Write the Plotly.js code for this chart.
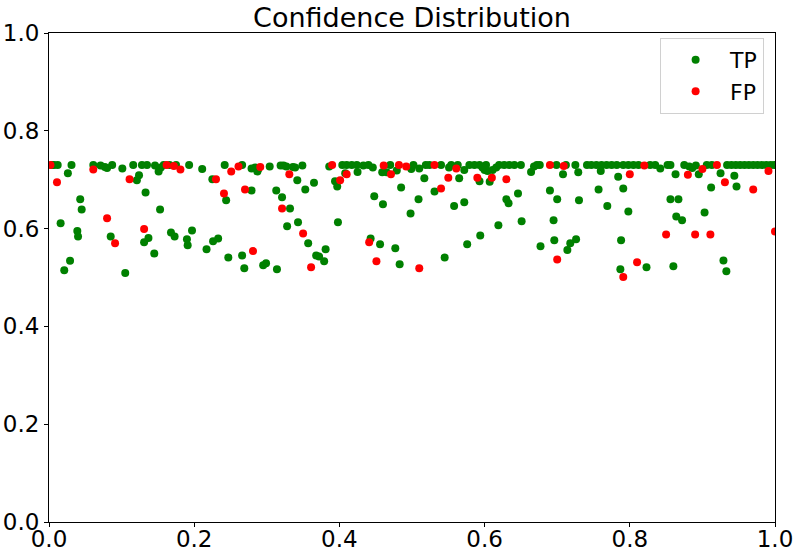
<!DOCTYPE html>
<html>
<head>
<meta charset="utf-8">
<script src="https://cdn.plot.ly/plotly-3.0.1.min.js"></script>
<style>html,body{margin:0;padding:0;background:#fff;}#chart{width:799px;height:556px;}</style>
</head>
<body>
<div id="chart"></div>
<script>
// True positives: confidence (x) vs score (y)
const tpX = [0.004,0.007,0.012,0.031,0.026,0.043,0.045,0.016,0.039,0.040,0.029,0.021,0.085,0.105,0.061,0.071,0.077,0.080,0.087,0.101,0.116,0.121,0.124,0.128,0.133,0.135,0.131,0.137,0.145,0.153,0.146,0.151,0.154,0.158,0.166,0.175,0.168,0.173,0.190,0.191,0.197,0.193,0.211,0.217,0.225,0.226,0.233,0.242,0.244,0.247,0.266,0.266,0.269,0.279,0.284,0.288,0.287,0.279,0.295,0.299,0.304,0.314,0.313,0.319,0.323,0.327,0.321,0.332,0.336,0.339,0.349,0.342,0.353,0.365,0.343,0.328,0.357,0.368,0.372,0.381,0.379,0.398,0.386,0.394,0.397,0.404,0.410,0.417,0.424,0.408,0.425,0.433,0.440,0.446,0.448,0.460,0.443,0.456,0.477,0.483,0.459,0.465,0.470,0.479,0.485,0.498,0.499,0.502,0.510,0.519,0.524,0.517,0.531,0.509,0.540,0.551,0.554,0.563,0.565,0.558,0.572,0.572,0.579,0.586,0.593,0.597,0.602,0.593,0.600,0.604,0.611,0.616,0.607,0.620,0.627,0.634,0.641,0.650,0.630,0.633,0.646,0.619,0.651,0.594,0.576,0.545,0.664,0.668,0.672,0.676,0.677,0.699,0.708,0.712,0.725,0.729,0.690,0.700,0.730,0.695,0.696,0.718,0.726,0.714,0.741,0.747,0.754,0.760,0.761,0.768,0.775,0.782,0.784,0.757,0.791,0.769,0.798,0.788,0.787,0.791,0.798,0.805,0.812,0.823,0.828,0.835,0.842,0.852,0.856,0.863,0.856,0.867,0.864,0.872,0.860,0.875,0.882,0.886,0.891,0.895,0.903,0.906,0.912,0.913,0.925,0.929,0.933,0.944,0.947,0.934,0.940,0.946,0.952,0.958,0.964,0.970,0.976,0.982,0.988,0.994,0.999];
const tpY = [0.730,0.730,0.730,0.730,0.713,0.660,0.639,0.611,0.595,0.584,0.534,0.515,0.584,0.509,0.730,0.729,0.726,0.724,0.730,0.723,0.730,0.699,0.709,0.730,0.674,0.730,0.572,0.581,0.549,0.639,0.729,0.717,0.725,0.730,0.730,0.730,0.592,0.584,0.578,0.566,0.596,0.730,0.722,0.558,0.701,0.574,0.580,0.730,0.658,0.541,0.730,0.545,0.519,0.723,0.725,0.721,0.717,0.678,0.525,0.529,0.727,0.517,0.678,0.729,0.729,0.727,0.664,0.641,0.726,0.725,0.729,0.699,0.680,0.694,0.613,0.605,0.570,0.545,0.543,0.558,0.533,0.613,0.727,0.697,0.686,0.730,0.730,0.730,0.730,0.713,0.716,0.729,0.730,0.725,0.666,0.650,0.580,0.568,0.560,0.527,0.715,0.715,0.730,0.719,0.684,0.631,0.722,0.730,0.723,0.730,0.730,0.703,0.676,0.660,0.730,0.725,0.730,0.730,0.703,0.646,0.654,0.720,0.730,0.730,0.730,0.725,0.730,0.697,0.720,0.718,0.720,0.725,0.696,0.730,0.730,0.730,0.730,0.730,0.660,0.652,0.672,0.607,0.615,0.586,0.568,0.541,0.716,0.727,0.730,0.730,0.564,0.730,0.711,0.730,0.730,0.715,0.678,0.660,0.658,0.617,0.576,0.570,0.578,0.556,0.730,0.730,0.730,0.718,0.730,0.730,0.730,0.730,0.706,0.680,0.682,0.646,0.635,0.576,0.517,0.730,0.730,0.730,0.730,0.521,0.730,0.730,0.723,0.730,0.730,0.711,0.660,0.660,0.625,0.617,0.523,0.730,0.727,0.724,0.729,0.711,0.633,0.730,0.684,0.730,0.713,0.535,0.513,0.708,0.686,0.730,0.730,0.730,0.730,0.730,0.730,0.730,0.730,0.730,0.730,0.730,0.730];
// False positives
const fpX = [0.002,0.011,0.080,0.091,0.061,0.111,0.131,0.162,0.172,0.181,0.230,0.241,0.251,0.261,0.270,0.281,0.291,0.321,0.331,0.350,0.361,0.390,0.401,0.410,0.441,0.451,0.461,0.471,0.482,0.492,0.510,0.531,0.540,0.550,0.561,0.590,0.610,0.630,0.690,0.709,0.700,0.800,0.820,0.791,0.810,0.850,0.880,0.900,0.890,0.911,0.920,0.931,0.970,0.991,1.000];
const fpY = [0.730,0.695,0.621,0.570,0.721,0.701,0.599,0.730,0.728,0.721,0.701,0.672,0.717,0.727,0.680,0.554,0.726,0.641,0.711,0.590,0.521,0.730,0.699,0.711,0.572,0.533,0.729,0.711,0.730,0.727,0.519,0.730,0.682,0.704,0.723,0.704,0.704,0.701,0.730,0.728,0.537,0.711,0.729,0.501,0.531,0.588,0.710,0.722,0.588,0.588,0.730,0.695,0.680,0.718,0.594];

const seriesNames = ['TP', 'FP'];
const tickVals = [0, 0.2, 0.4, 0.6, 0.8, 1.0];
const tickText = ['0.0', '0.2', '0.4', '0.6', '0.8', '1.0'];
const chartTitle = 'Confidence Distribution';

const font = 'DejaVu Sans, sans-serif';
const traces = [
  {x: tpX, y: tpY, name: seriesNames[0], type: 'scatter', mode: 'markers',
   marker: {color: 'green', size: 8, line: {width: 0}}},
  {x: fpX, y: fpY, name: seriesNames[1], type: 'scatter', mode: 'markers',
   marker: {color: 'red', size: 8, line: {width: 0}}}
];
const axisCommon = {
  range: [0, 1], tickvals: tickVals, ticktext: tickText,
  showgrid: false, zeroline: false, showline: true, mirror: true,
  linecolor: '#000', linewidth: 1, ticks: 'outside', ticklen: 4, tickwidth: 1, tickcolor: '#000',
  tickfont: {family: font, size: 23, color: '#000'}
};
const layout = {
  width: 799, height: 556,
  margin: {l: 49, r: 24, t: 33, b: 34},
  paper_bgcolor: '#fff', plot_bgcolor: '#fff',
  title: {text: chartTitle, font: {family: font, size: 27, color: '#000'},
          x: 0.5, xref: 'paper', y: 0.985, yref: 'container', yanchor: 'top'},
  xaxis: Object.assign({}, axisCommon, {ticklabelstandoff: -8}),
  yaxis: Object.assign({}, axisCommon),
  showlegend: true,
  legend: {x: 0.985, y: 0.99, xanchor: 'right', yanchor: 'top',
           bgcolor: '#fff', bordercolor: '#d0d0d0', borderwidth: 1,
           font: {family: font, size: 22, color: '#000'}, itemwidth: 59}
};
Plotly.newPlot('chart', traces, layout, {displayModeBar: false, staticPlot: true});
</script>
</body>
</html>
